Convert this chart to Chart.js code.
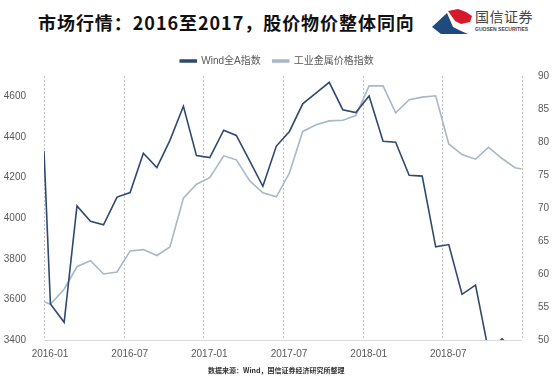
<!DOCTYPE html>
<html lang="zh">
<head>
<meta charset="UTF-8">
<title>市场行情</title>
<script src="https://cdn.jsdelivr.net/npm/chart.js"></script>
<style>
  body { margin: 0; background: #ffffff; width: 554px; height: 377px; overflow: hidden; position: relative; font-family: 'Liberation Sans', 'Noto Sans CJK SC', sans-serif; }
  #title { position: absolute; left: 38px; top: 9px; font-family: 'Noto Sans CJK SC', sans-serif; font-weight: 700; font-size: 18px; letter-spacing: 0.95px; color: #111; white-space: nowrap; }
  #logo { position: absolute; left: 428px; top: 6px; }
  #brand { position: absolute; left: 475px; top: 6px; font-family: 'Noto Sans CJK SC', sans-serif; font-size: 14px; color: #444; letter-spacing: 0.5px; }
  #brand-en { position: absolute; left: 475px; top: 26px; font-family: 'Liberation Sans', sans-serif; font-weight: 700; font-size: 5px; color: #444; white-space: nowrap; }
  #source { position: absolute; left: 208px; top: 365px; font-family: 'Noto Sans CJK SC', sans-serif; font-weight: 700; font-size: 7px; color: #333; white-space: nowrap; }
  #wrap { position: absolute; left: 0; top: 0; width: 554px; height: 377px; }
</style>
</head>
<body>
<div id="title">市场行情：2016至2017，股价物价整体同向</div>
<svg id="logo" width="46" height="32" viewBox="428 6 46 32">
  <polygon points="432,27 447,13 450,20 453,27 461,31 468,34 441,34" fill="#1f4a7c"/>
  <polygon points="448,11 458,9 466,12 472,16 470,22 461,24 455,21" fill="#d7192c"/>
</svg>
<div id="brand">国信证券</div>
<div id="brand-en">GUOSEN SECURITIES</div>
<div id="wrap"><canvas id="chart" width="554" height="377"></canvas></div>
<div id="source">数据来源：Wind，国信证券经济研究所整理</div>

<script>
// observation dates
const dates = [
  '2016-01-01', '2016-01-16', '2016-02-16', '2016-03-16', '2016-04-16', '2016-05-16', '2016-06-16',
  '2016-07-16', '2016-08-16', '2016-09-16', '2016-10-16', '2016-11-16', '2016-12-16',
  '2017-01-16', '2017-02-16', '2017-03-16', '2017-04-16', '2017-05-16', '2017-06-16',
  '2017-07-16', '2017-08-16', '2017-09-16', '2017-10-16', '2017-11-16', '2017-12-16',
  '2018-01-16', '2018-02-16', '2018-03-16', '2018-04-16', '2018-05-16', '2018-06-16',
  '2018-07-16', '2018-08-16', '2018-09-16', '2018-10-16', '2018-11-16', '2018-12-16', '2018-12-31'
];
// Wind全A指数 (left axis)
const windA = [
  4330, 3577, 3487, 4060, 3985, 3967, 4104,
  4126, 4320, 4249, 4383, 4551, 4308,
  4298, 4433, 4407, 4281, 4157, 4355,
  4427, 4563, 4617, 4669, 4534, 4520,
  4602, 4379, 4374, 4211, 4207, 3859,
  3870, 3625, 3670, 3345, 3406, 3342, 3320
];
// 工业金属价格指数 (right axis)
const metals = [
  55.8, 55.4, 57.7, 61.1, 62.0, 60.0, 60.3,
  63.5, 63.7, 62.8, 64.1, 71.5, 73.6,
  74.6, 77.9, 77.3, 74.1, 72.3, 71.7,
  75.3, 81.6, 82.6, 83.2, 83.3, 84.0,
  88.5, 88.5, 84.4, 86.4, 86.8, 87.0,
  79.7, 78.1, 77.4, 79.2, 77.5, 76.1, 75.9
];
const xTickLabels = ['2016-01', '2016-07', '2017-01', '2017-07', '2018-01', '2018-07', ''];

function monthPos(s) {
  const [y, m, d] = s.split('-').map(Number);
  const days = new Date(Date.UTC(y, m, 0)).getUTCDate();
  return (y - 2016) * 12 + (m - 1) + (d - 1) / days;
}

const tickFont = { family: "'Liberation Sans', Arial, sans-serif", size: 10 };
const tickColor = '#595959';

new Chart(document.getElementById('chart'), {
  type: 'line',
  data: {
    datasets: [
      {
        label: 'Wind全A指数',
        data: dates.map((d, i) => ({ x: monthPos(d), y: windA[i] })),
        borderColor: '#2f4a70',
        backgroundColor: '#2f4a70',
        borderWidth: 1.6,
        pointRadius: 0,
        tension: 0,
        yAxisID: 'y'
      },
      {
        label: '工业金属价格指数',
        data: dates.map((d, i) => ({ x: monthPos(d), y: metals[i] })),
        borderColor: '#a8b7c9',
        backgroundColor: '#a8b7c9',
        borderWidth: 1.6,
        pointRadius: 0,
        tension: 0,
        yAxisID: 'y1'
      }
    ]
  },
  options: {
    responsive: false,
    animation: false,
    layout: { padding: { top: 44, bottom: 0, left: 0, right: 0 } },
    plugins: {
      legend: {
        position: 'top',
        labels: {
          boxWidth: 16,
          boxHeight: 2,
          color: tickColor,
          font: { family: "'Liberation Sans', 'Noto Sans CJK SC', sans-serif", size: 10 },
          padding: 12
        }
      },
      tooltip: { enabled: false }
    },
    scales: {
      x: {
        type: 'linear',
        min: 0,
        max: 36,
        afterFit: s => { s.height = 37; },
        afterBuildTicks: s => { s.ticks = xTickLabels.map((t, i) => ({ value: i * 6 })); },
        ticks: {
          autoSkip: false,
          maxRotation: 0,
          padding: 0,
          labelOffset: 6,
          color: tickColor,
          font: tickFont,
          callback: (v, i) => xTickLabels[i]
        },
        grid: { display: false },
        border: { display: false }
      },
      y: {
        position: 'left',
        min: 3400,
        max: 4700,
        afterFit: s => { s.width = 44; },
        afterBuildTicks: s => { s.ticks = s.ticks.filter(t => t.value % 200 === 0); },
        ticks: { stepSize: 200, color: tickColor, font: tickFont, padding: 10, callback: v => String(v) },
        grid: { display: false },
        border: { display: false }
      },
      y1: {
        position: 'right',
        min: 50,
        max: 90,
        afterFit: s => { s.width = 32; },
        ticks: { stepSize: 5, color: tickColor, font: tickFont, padding: 8, callback: v => String(v) },
        grid: { display: false },
        border: { display: false }
      }
    }
  },
  plugins: [{
    id: 'dottedGrid',
    beforeDatasetsDraw(chart) {
      const { ctx, chartArea, scales } = chart;
      ctx.save();
      ctx.strokeStyle = '#c4c4c4';
      ctx.lineWidth = 1;
      ctx.setLineDash([2, 2]);
      scales.x.ticks.forEach(t => {
        const px = Math.round(scales.x.getPixelForValue(t.value)) + 0.5;
        ctx.beginPath();
        ctx.moveTo(px, chartArea.top);
        ctx.lineTo(px, chartArea.bottom);
        ctx.stroke();
      });
      ctx.setLineDash([]);
      ctx.strokeStyle = '#d9d9d9';
      ctx.beginPath();
      ctx.moveTo(chartArea.left, chartArea.bottom + 0.5);
      ctx.lineTo(chartArea.right, chartArea.bottom + 0.5);
      ctx.stroke();
      ctx.restore();
    }
  }]
});
</script>
</body>
</html>
